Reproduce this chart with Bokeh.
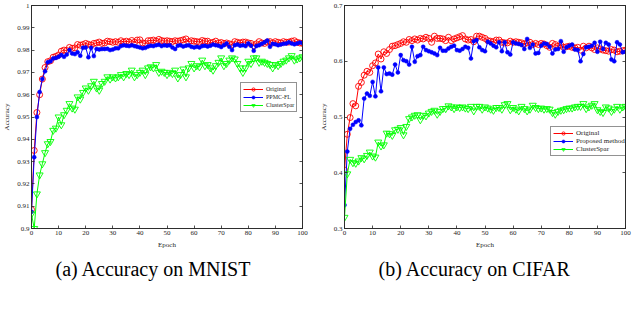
from bokeh.plotting import figure
from bokeh.layouts import row
from bokeh.models import (Legend, LinearAxis, FixedTicker, CustomJSTickFormatter,
                          Title, Range1d, CustomLabelingPolicy)
from bokeh.embed import file_html
from bokeh.resources import INLINE

epochs = list(range(101))

mnist_original = [
    0.9085, 0.935, 0.952, 0.960, 0.967, 0.9722, 0.9748, 0.9752, 0.9768, 0.9772,
    0.9778, 0.9795, 0.9800, 0.9798, 0.9812, 0.9808, 0.9810, 0.9825, 0.9822, 0.9825,
    0.9830, 0.9826, 0.9822, 0.9830, 0.9832, 0.9836, 0.9830, 0.9832, 0.9840, 0.9838,
    0.9835, 0.9838, 0.9835, 0.9842, 0.9836, 0.9840, 0.9836, 0.9843, 0.9835, 0.9845,
    0.9846, 0.9832, 0.9830, 0.9842, 0.9843, 0.9845, 0.9840, 0.9848, 0.9843, 0.9840,
    0.9842, 0.9840, 0.9838, 0.9842, 0.9840, 0.9843, 0.9846, 0.9850, 0.9838, 0.9842,
    0.9840, 0.9838, 0.9836, 0.9843, 0.9840, 0.9840, 0.9832, 0.9835, 0.9840, 0.9832,
    0.9834, 0.9830, 0.9832, 0.9828, 0.9825, 0.9838, 0.9835, 0.9832, 0.9836, 0.9836,
    0.9832, 0.9830, 0.9820, 0.9828, 0.9838, 0.9832, 0.9830, 0.9836, 0.9838, 0.9832,
    0.9838, 0.9835, 0.9832, 0.9838, 0.9835, 0.9836, 0.9840, 0.9842, 0.9835, 0.9832,
    0.9830]

mnist_ppmc = [
    0.9075, 0.932, 0.950, 0.9612, 0.967, 0.9705, 0.9745, 0.9750, 0.9762, 0.9765,
    0.9770, 0.9778, 0.9770, 0.9780, 0.9800, 0.9785, 0.9782, 0.9790, 0.9775, 0.9810,
    0.9812, 0.9768, 0.9810, 0.9773, 0.9805, 0.9803, 0.9805, 0.9805, 0.9806, 0.9800,
    0.9803, 0.9808, 0.9808, 0.9818, 0.9822, 0.9820, 0.9818, 0.9822, 0.9818, 0.9815,
    0.9812, 0.9808, 0.9810, 0.9816, 0.9820, 0.9818, 0.9822, 0.9824, 0.9818, 0.9822,
    0.9820, 0.9822, 0.9812, 0.9805, 0.9820, 0.9822, 0.9816, 0.9820, 0.9822, 0.9815,
    0.9812, 0.9815, 0.9812, 0.9818, 0.9820, 0.9816, 0.9820, 0.9825, 0.9822, 0.9820,
    0.9814, 0.9822, 0.9830, 0.9815, 0.9800, 0.9822, 0.9825, 0.9820, 0.9822, 0.9818,
    0.9830, 0.9820, 0.9797, 0.9818, 0.9822, 0.9828, 0.9835, 0.9843, 0.9815, 0.9828,
    0.9826, 0.9822, 0.9825, 0.9828, 0.9830, 0.9835, 0.9830, 0.9826, 0.9830, 0.9834,
    0.9832]

mnist_cluster = [
    0.9065, 0.900, 0.9155, 0.924, 0.929, 0.934, 0.938, 0.939, 0.944, 0.945,
    0.950, 0.9465, 0.951, 0.953, 0.956, 0.954, 0.9535, 0.959, 0.958, 0.961,
    0.963, 0.962, 0.964, 0.966, 0.963, 0.962, 0.965, 0.966, 0.968, 0.967,
    0.968, 0.9675, 0.968, 0.969, 0.968, 0.9695, 0.969, 0.971, 0.968, 0.969,
    0.970, 0.971, 0.969, 0.972, 0.9725, 0.972, 0.9735, 0.970, 0.9705, 0.970,
    0.969, 0.970, 0.9695, 0.971, 0.9675, 0.969, 0.9715, 0.968, 0.972, 0.974,
    0.972, 0.973, 0.9725, 0.9755, 0.973, 0.9735, 0.972, 0.971, 0.973, 0.9745,
    0.9765, 0.973, 0.974, 0.9755, 0.9765, 0.976, 0.974, 0.972, 0.970, 0.972,
    0.975, 0.974, 0.9765, 0.9765, 0.9745, 0.975, 0.9745, 0.974, 0.9735, 0.972,
    0.9735, 0.973, 0.974, 0.975, 0.9755, 0.9765, 0.9775, 0.9755, 0.976, 0.9765,
    0.977]

cifar_original = [
    0.405, 0.469, 0.499, 0.524, 0.520, 0.555, 0.562, 0.575, 0.582, 0.580,
    0.592, 0.597, 0.613, 0.604, 0.617, 0.614, 0.621, 0.627, 0.628, 0.630,
    0.632, 0.635, 0.634, 0.639, 0.637, 0.640, 0.638, 0.641, 0.640, 0.643,
    0.641, 0.634, 0.645, 0.641, 0.641, 0.640, 0.637, 0.643, 0.637, 0.640,
    0.642, 0.644, 0.646, 0.640, 0.638, 0.639, 0.635, 0.645, 0.645, 0.643,
    0.641, 0.637, 0.636, 0.635, 0.638, 0.638, 0.634, 0.633, 0.633, 0.636,
    0.634, 0.635, 0.634, 0.633, 0.631, 0.633, 0.634, 0.630, 0.632, 0.630,
    0.632, 0.631, 0.628, 0.625, 0.632, 0.630, 0.627, 0.629, 0.625, 0.626,
    0.627, 0.625, 0.624, 0.625, 0.620, 0.627, 0.624, 0.627, 0.624, 0.621,
    0.624, 0.622, 0.620, 0.619, 0.618, 0.621, 0.620, 0.617, 0.618, 0.619,
    0.620]

cifar_proposed = [
    0.342, 0.438, 0.479, 0.486, 0.491, 0.494, 0.485, 0.533, 0.542, 0.538,
    0.563, 0.537, 0.589, 0.546, 0.589, 0.577, 0.578, 0.576, 0.594, 0.580,
    0.611, 0.602, 0.600, 0.594, 0.626, 0.599, 0.609, 0.611, 0.626, 0.620,
    0.618, 0.616, 0.614, 0.611, 0.624, 0.619, 0.619, 0.623, 0.626, 0.628,
    0.620, 0.619, 0.622, 0.626, 0.624, 0.605, 0.636, 0.638, 0.625, 0.620,
    0.618, 0.635, 0.632, 0.628, 0.625, 0.634, 0.618, 0.634, 0.616, 0.612,
    0.634, 0.632, 0.631, 0.629, 0.622, 0.640, 0.624, 0.630, 0.614, 0.615,
    0.628, 0.632, 0.631, 0.626, 0.614, 0.621, 0.622, 0.636, 0.617, 0.625,
    0.628, 0.630, 0.621, 0.620, 0.600, 0.613, 0.625, 0.626, 0.628, 0.633,
    0.617, 0.635, 0.622, 0.633, 0.630, 0.603, 0.600, 0.634, 0.630, 0.616,
    0.617]

cifar_cluster = [
    0.320, 0.398, 0.424, 0.418, 0.417, 0.421, 0.427, 0.425, 0.431, 0.437,
    0.430, 0.428, 0.455, 0.448, 0.450, 0.471, 0.470, 0.467, 0.477, 0.478,
    0.481, 0.468, 0.483, 0.497, 0.500, 0.503, 0.504, 0.495, 0.503, 0.502,
    0.507, 0.510, 0.512, 0.505, 0.510, 0.515, 0.515, 0.520, 0.518, 0.515,
    0.518, 0.517, 0.518, 0.516, 0.515, 0.519, 0.511, 0.519, 0.519, 0.514,
    0.518, 0.516, 0.514, 0.512, 0.517, 0.517, 0.514, 0.522, 0.524, 0.513,
    0.517, 0.514, 0.511, 0.519, 0.515, 0.511, 0.514, 0.521, 0.517, 0.515,
    0.516, 0.514, 0.515, 0.514, 0.508, 0.505, 0.510, 0.512, 0.513, 0.515,
    0.516, 0.516, 0.518, 0.519, 0.519, 0.524, 0.515, 0.518, 0.521, 0.524,
    0.513, 0.510, 0.508, 0.518, 0.516, 0.510, 0.514, 0.519, 0.514, 0.518,
    0.519]

x_ticks = [0, 10, 20, 30, 40, 50, 60, 70, 80, 90, 100]
mnist_y_ticks = [0.9, 0.91, 0.92, 0.93, 0.94, 0.95, 0.96, 0.97, 0.98, 0.99, 1.0]
cifar_y_ticks = [0.3, 0.4, 0.5, 0.6, 0.7]

mnist_labels = ["Original", "PPMC-FL", "ClusterSpar"]
cifar_labels = ["Original", "Proposed method", "ClusterSpar"]
captions = ["(a) Accuracy on MNIST", "(b) Accuracy on CIFAR"]

SERIF = "Liberation Serif"
AXC = "#262626"
RED, BLUE, GREEN = "#FF0000", "#0000FF", "#00FF00"

fmt_y = CustomJSTickFormatter(code="""
var s = tick.toFixed(2);
s = s.replace(/0+$/, '').replace(/\\.$/, '');
return s;
""")

no_labels = CustomLabelingPolicy(code="return new Set()")


def style_axis(ax, show_labels=True):
    ax.axis_line_color = AXC
    ax.axis_line_width = 0.8
    ax.major_tick_line_color = AXC
    ax.major_tick_line_width = 0.8
    ax.major_tick_in = 3
    ax.major_tick_out = 0
    ax.minor_tick_line_color = None
    ax.major_label_text_font = SERIF
    ax.major_label_text_font_size = "7px"
    ax.major_label_text_color = AXC
    ax.major_label_standoff = 2
    ax.axis_label_text_font = SERIF
    ax.axis_label_text_font_size = "7px"
    ax.axis_label_text_font_style = "normal"
    ax.axis_label_text_color = AXC
    ax.axis_label_standoff = 3
    if not show_labels:
        ax.major_label_policy = no_labels
        ax.major_label_text_font_size = "0px"
        ax.major_label_standoff = 0


def make(width, border_left, border_right, yr, yticks, ys, labels, caption,
         legend_loc, legend_font, cap_offset):
    p = figure(width=width, height=305, output_backend="svg",
               toolbar_location=None, x_range=Range1d(0, 100),
               y_range=Range1d(*yr), min_border_left=border_left,
               min_border_right=border_right, min_border_top=5,
               min_border_bottom=77)
    p.xgrid.visible = False
    p.ygrid.visible = False
    p.outline_line_color = AXC
    p.outline_line_width = 0.8
    p.background_fill_color = "white"
    p.border_fill_color = "white"

    p.xaxis.ticker = FixedTicker(ticks=x_ticks)
    p.yaxis.ticker = FixedTicker(ticks=yticks)
    p.yaxis.formatter = fmt_y
    p.xaxis.axis_label = "Epoch"
    p.yaxis.axis_label = "Accuracy"
    style_axis(p.xaxis[0])
    style_axis(p.yaxis[0])

    top = LinearAxis(ticker=FixedTicker(ticks=x_ticks))
    right = LinearAxis(ticker=FixedTicker(ticks=yticks))
    style_axis(top, False)
    style_axis(right, False)
    p.add_layout(top, "above")
    p.add_layout(right, "right")

    y0, y1, y2 = ys
    r0l = p.line(epochs, y0, color=RED, line_width=1)
    r0m = p.scatter(epochs, y0, marker="circle", size=6, line_color=RED,
                    fill_color=None, line_width=0.9)
    r1l = p.line(epochs, y1, color=BLUE, line_width=1)
    r1m = p.scatter(epochs, y1, marker="circle", size=4, line_color=BLUE,
                    fill_color=BLUE, line_width=0.5)
    r2l = p.line(epochs, y2, color=GREEN, line_width=1)
    r2m = p.scatter(epochs, y2, marker="inverted_triangle", size=7,
                    line_color=GREEN, fill_color=None, line_width=0.9)

    legend = Legend(items=[(labels[0], [r0l, r0m]), (labels[1], [r1l, r1m]),
                           (labels[2], [r2l, r2m])],
                    location=legend_loc)
    legend.label_text_font = SERIF
    legend.label_text_font_size = legend_font
    legend.label_text_color = AXC
    legend.label_height = 8
    legend.glyph_height = 8
    legend.glyph_width = 20
    legend.label_standoff = 3
    legend.spacing = 0
    legend.padding = 2
    legend.margin = 0
    legend.border_line_color = AXC
    legend.border_line_width = 0.8
    legend.background_fill_alpha = 1
    p.add_layout(legend, "center")

    t = Title(text=caption, align="left", offset=cap_offset, text_font=SERIF,
              text_font_size="20px", text_font_style="normal",
              text_color="black", standoff=9)
    p.add_layout(t, "below")
    return p


p1 = make(316, 24, 14, (0.9, 1.0), mnist_y_ticks,
          (mnist_original, mnist_ppmc, mnist_cluster), mnist_labels,
          captions[0], (209, 116), "6px", 24)
p2 = make(316, 21, 7, (0.3, 0.7), cifar_y_ticks,
          (cifar_original, cifar_proposed, cifar_cluster), cifar_labels,
          captions[1], (206, 72), "7px", 34)

layout = row(p1, p2)
open("out.html", "w").write(file_html(layout, INLINE))
